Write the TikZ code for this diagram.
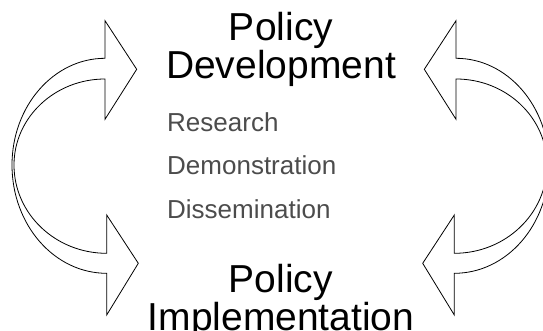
\documentclass[tikz,border=0pt]{standalone}
\usepackage{fontspec}
\setmainfont{Liberation Sans}

\begin{document}
\begin{tikzpicture}[x=1pt,y=-1pt]
	\tikzstyle{heading}=[align=center,inner sep=0pt,anchor=north,font=\fontsize{39}{38}\selectfont]
	\tikzstyle{stages}=[align=left,inner sep=0pt,anchor=north west,text=black!70,font=\fontsize{26}{43.5}\selectfont]
	\tikzstyle{loop}=[draw=black,line width=0.8pt,line join=miter,fill=white]

	\useasboundingbox (0,0) rectangle (543,331);
	\clip (0,0) rectangle (543,331);

	\node[heading](dev) at (281,12){Policy\\Development};
	\node[heading](impl) at (281,264){Policy\\Implementation};
	\node[stages](steps) at (167,112.4){Research\\Demonstration\\Dissemination};

	% left loop: up into development, down into implementation
	\draw[loop] (105,58.3) .. controls (53.7,58.3) and (12,106.1) .. (12,165)
		.. controls (12,224.8) and (54.2,273.3) .. (106.7,273.3)
		-- (106.7,315) -- (138.3,263.3) -- (106.7,215) -- (106.7,253.3)
		.. controls (55.4,253.3) and (14,213.7) .. (14,165)
		.. controls (14,117.5) and (54.8,79) .. (105,79)
		-- (105,119.3) -- (136.7,69.3) -- (105,20.7) -- cycle;

	% right loop, same shape mirrored
	\begin{scope}[shift={(561,0)},xscale=-1]
	\draw[loop] (105,58.3) .. controls (53.7,58.3) and (12,106.1) .. (12,165)
		.. controls (12,224.8) and (54.2,273.3) .. (106.7,273.3)
		-- (106.7,315) -- (138.3,263.3) -- (106.7,215) -- (106.7,253.3)
		.. controls (55.4,253.3) and (14,213.7) .. (14,165)
		.. controls (14,117.5) and (54.8,79) .. (105,79)
		-- (105,119.3) -- (136.7,69.3) -- (105,20.7) -- cycle;
	\end{scope}

\end{tikzpicture}
\end{document}
